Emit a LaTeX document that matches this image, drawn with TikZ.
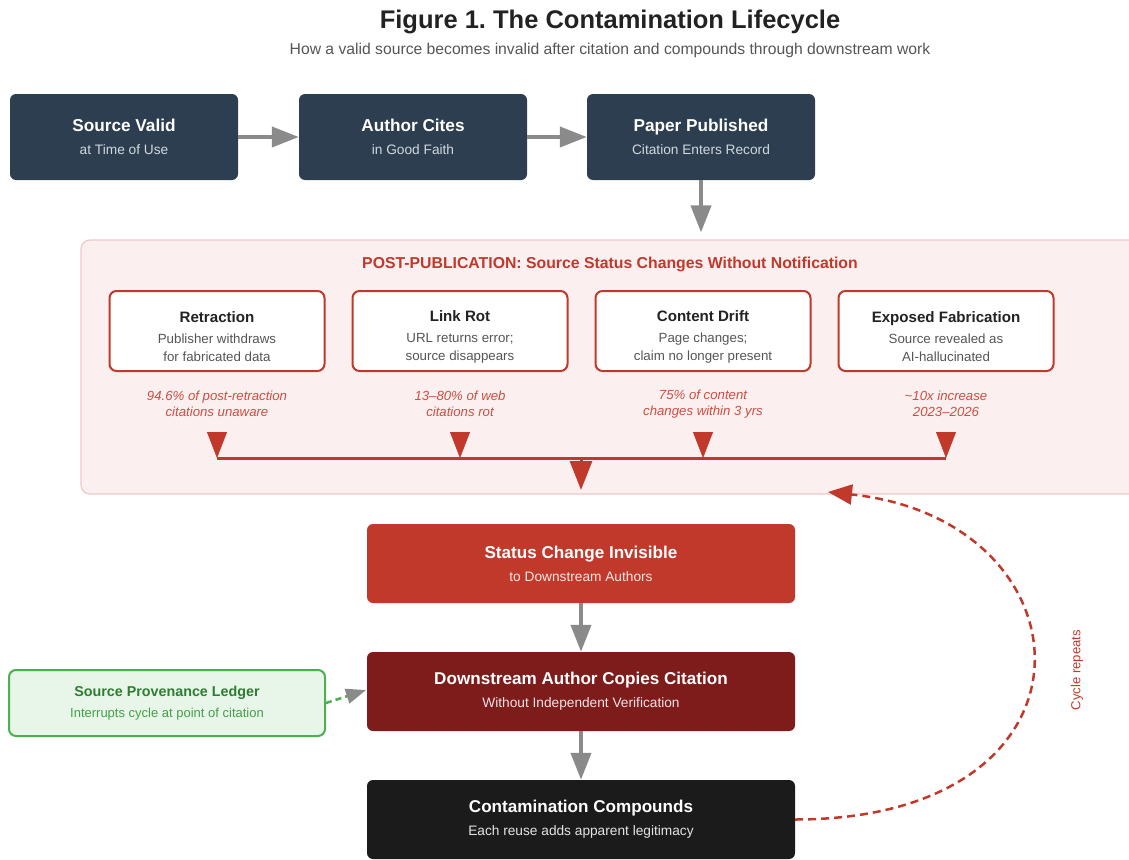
\documentclass[tikz,border=0pt]{standalone}
\usepackage{fontspec}
\setmainfont{Liberation Sans}
\usetikzlibrary{arrows.meta}
\definecolor{navy}{HTML}{2C3E50}
\definecolor{cred}{HTML}{C0392B}
\definecolor{cdark}{HTML}{7E1B1B}
\definecolor{cblack}{HTML}{1B1B1B}
\definecolor{cgray}{HTML}{8A8A8A}
\definecolor{panelfill}{HTML}{FCEFEF}
\definecolor{panelline}{HTML}{F0C8C8}
\definecolor{statred}{HTML}{CF4E42}
\definecolor{subgray}{HTML}{555555}
\definecolor{titledark}{HTML}{222222}
\definecolor{navysub}{HTML}{D2D8DE}
\definecolor{gfill}{HTML}{E8F5E9}
\definecolor{gline}{HTML}{4CAF50}
\definecolor{gtitle}{HTML}{2E7D32}
\definecolor{gsub}{HTML}{43A047}
\newcommand{\ft}[2]{\fontsize{#1}{#2}\selectfont}
\frenchspacing
\begin{document}
\begin{tikzpicture}[x=1pt,y=-1pt,
  topbox/.style={rectangle, rounded corners=6pt, fill=navy, text=white, minimum width=228pt, minimum height=86pt, align=center, inner sep=0pt, font=\ft{13.7}{23}},
  midbox/.style={rectangle, rounded corners=6pt, text=white, minimum width=428pt, minimum height=79pt, align=center, inner sep=0pt, font=\ft{13.7}{23}},
  evbox/.style={rectangle, rounded corners=7pt, draw=cred, line width=2pt, fill=white, minimum width=215pt, minimum height=80pt, inner sep=0pt},
  evtext/.style={align=center, inner sep=0pt, font=\ft{13.3}{18}},
  stat/.style={align=center, text=statred, font=\ft{13.2}{16}\itshape, inner sep=0pt},
  grayarrow/.style={draw=cgray, line width=4pt, -{Triangle[length=27pt,width=20pt]}},
  redarrow/.style={draw=cred, line width=0.4pt, -{Triangle[length=26pt,width=20pt]}},
]
\useasboundingbox (0,0) rectangle (1129,859);
% titles
\node[font=\ft{25.5}{30}\bfseries, text=titledark] (title) at (610,21.5) {Figure 1. The Contamination Lifecycle};
\node[font=\ft{15.7}{18}, text=subgray] (subtitle) at (610,50) {How a valid source becomes invalid after citation and compounds through downstream work};
% top row
\node[topbox] (b1) at (124,137) {{\ft{17.2}{23}\bfseries Source Valid}\\{\color{navysub}at Time of Use}};
\node[topbox] (b2) at (413,137) {{\ft{17.2}{23}\bfseries Author Cites}\\{\color{navysub}in Good Faith}};
\node[topbox] (b3) at (701,137) {{\ft{17.2}{23}\bfseries Paper Published}\\{\color{navysub}Citation Enters Record}};
\draw[grayarrow] (b1.east) -- (b2.west);
\draw[grayarrow] (b2.east) -- (b3.west);
% panel
\node[rectangle, rounded corners=9pt, draw=panelline, line width=1.2pt, fill=panelfill, minimum width=1070pt, minimum height=254pt, inner sep=0pt] (panel) at (616,367) {};
\draw[grayarrow, shorten >=7pt] (b3.south) -- (b3.south |- panel.north);
\node[font=\ft{15.8}{18}\bfseries, text=cred] (ptitle) at (610,264) {POST-PUBLICATION: Source Status Changes Without Notification};
% event boxes
\node[evbox] (e1) at (217,331) {};
\node[evbox] (e2) at (460,331) {};
\node[evbox] (e3) at (703,331) {};
\node[evbox] (e4) at (946,331) {};
\node[evtext] (e1t) at (217,337) {{\ft{15.1}{18}\bfseries\color{titledark}Retraction}\\[3pt]{\color{subgray}Publisher withdraws}\\{\color{subgray}for fabricated data}};
\node[evtext] (e2t) at (460,337) {{\ft{15.1}{18}\bfseries\color{titledark}Link Rot}\\[3pt]{\color{subgray}URL returns error;}\\{\color{subgray}source disappears}};
\node[evtext] (e3t) at (703,337) {{\ft{15.1}{18}\bfseries\color{titledark}Content Drift}\\[3pt]{\color{subgray}Page changes;}\\{\color{subgray}claim no longer present}};
\node[evtext] (e4t) at (946,337) {{\ft{15.1}{18}\bfseries\color{titledark}Exposed Fabrication}\\[3pt]{\color{subgray}Source revealed as}\\{\color{subgray}AI-hallucinated}};
% stats
\node[stat] (s1) at (217,404) {94.6\% of post-retraction\\citations unaware};
\node[stat] (s2) at (460,404) {13--80\% of web\\citations rot};
\node[stat] (s3) at (703,404) {75\% of content\\changes within 3 yrs};
\node[stat] (s4) at (946,404) {\textasciitilde10x increase\\2023--2026};
% bar
\foreach \i/\x in {1/217,2/460,3/703,4/946} {
  \coordinate (t\i) at (\x,432.5);
  \coordinate (j\i) at (\x,458);
}
\coordinate (jc) at (581,458);
\coordinate (pb) at (581,490);
\foreach \i in {1,2,3,4} {
  \draw[redarrow] (t\i) -- (j\i);
}
\draw[draw=cred, line width=3pt] (j1) -- (j4);
\draw[draw=cred, line width=3pt, -{Triangle[length=29pt,width=22pt]}] (jc) -- (pb);
% lower chain
\node[midbox, fill=cred] (inv) at (581,563.5) {{\ft{17.1}{23}\bfseries Status Change Invisible}\\{\color{white!88!cred}to Downstream Authors}};
\node[midbox, fill=cdark] (dac) at (581,691.5) {{\ft{17.1}{23}\bfseries Downstream Author Copies Citation}\\{\color{white!88!cdark}Without Independent Verification}};
\node[midbox, fill=cblack] (cc) at (581,819.5) {{\ft{17.1}{23}\bfseries Contamination Compounds}\\{\color{white!88!cblack}Each reuse adds apparent legitimacy}};
\draw[grayarrow] (inv.south) -- (dac.north);
\draw[grayarrow] (dac.south) -- (cc.north);
% green ledger
\node[rectangle, rounded corners=7pt, draw=gline, line width=2pt, fill=gfill, minimum width=316pt, minimum height=66pt, align=center, inner sep=0pt, font=\ft{13}{21}] (led) at (167,703) {{\ft{14.3}{21}\bfseries\color{gtitle}Source Provenance Ledger}\\{\color{gsub}Interrupts cycle at point of citation}};
\coordinate (ledtip) at (366,690);
\draw[draw=gline, line width=2.5pt, dash pattern=on 6pt off 4pt, -{Triangle[length=20pt,width=15pt,color=cgray]}] (led.east) -- (ledtip);
% cycle
\coordinate (cyc) at (828,492);
\draw[draw=cred, line width=2.5pt, dash pattern=on 8pt off 5pt, -{Triangle[length=24pt,width=20pt]}] (cc.east) .. controls (1115,819) and (1095,520) .. (cyc);
\node[rotate=90, font=\ft{13.1}{14}, text=cred] (cyclbl) at (1077,670) {Cycle repeats};
\end{tikzpicture}
\end{document}
